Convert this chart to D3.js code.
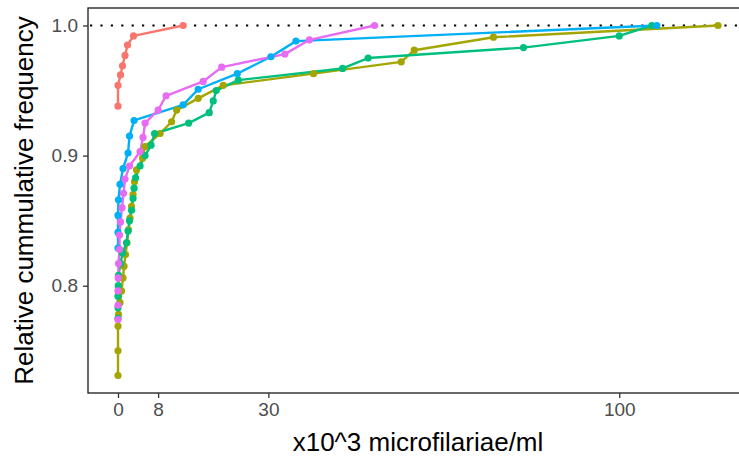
<!doctype html>
<html>
  <head>
    <meta charset="utf-8">
    <title>Relative cumulative frequency of microfilariae</title>
    <script src="https://cdnjs.cloudflare.com/ajax/libs/d3/7.8.5/d3.min.js"></script>
    <style>
      body { margin: 0; background: #fff; }
      text { font-family: "Liberation Sans", Arial, sans-serif; }
    </style>
  </head>

  <body>
    <div id="chart"></div>

    <script>
      // Data: x in 10^3 mf/ml, y = relative cumulative frequency
      const groups = ['A', 'B', 'C', 'D', 'E'];
      const colors = ['#F8766D', '#A3A500', '#00BF7D', '#00B0F6', '#E76BF3'];

      const redX = [0, 0, 0.5, 0.9, 1.4, 1.9, 3.1, 13.0];
      const redY = [0.938, 0.954, 0.962, 0.969, 0.977, 0.985, 0.992, 1.000];

      const oliveX = [0, 0, 0, 0.1, 0.4, 0.7, 1.0, 1.2, 1.5, 1.8, 2.1, 2.4, 2.7, 3.0, 3.3, 3.7,
                      4.9, 5.4, 8.4, 10.7, 11.7, 16.0, 21.0, 39.0, 56.5, 59.1, 74.9, 119.7];
      const oliveY = [0.731, 0.750, 0.769, 0.778, 0.787, 0.796, 0.806, 0.815, 0.824, 0.833, 0.843,
                      0.852, 0.861, 0.870, 0.880, 0.889, 0.898, 0.907, 0.917, 0.926, 0.935, 0.944,
                      0.954, 0.963, 0.972, 0.981, 0.991, 1.000];

      const greenX = [0, 0, 0, 0.05, 0.1, 0.5, 0.9, 1.7, 2.0, 2.3, 2.7, 3.0, 3.2, 3.5, 4.4, 5.4,
                      6.6, 7.3, 14.1, 18.2, 19.0, 19.6, 24.0, 44.8, 49.9, 80.9, 100.0, 106.5];
      const greenY = [0.775, 0.783, 0.792, 0.800, 0.808, 0.817, 0.825, 0.833, 0.842, 0.850, 0.858,
                      0.867, 0.875, 0.883, 0.892, 0.900, 0.908, 0.917, 0.925, 0.933, 0.942, 0.950,
                      0.958, 0.967, 0.975, 0.983, 0.992, 1.000];

      const blueX = [0, 0, 0, 0.1, 0.4, 1.0, 2.0, 2.3, 3.2, 13.0, 16.0, 23.8, 30.5, 35.5, 107.5];
      const blueY = [0.829, 0.841, 0.854, 0.866, 0.878, 0.890, 0.902, 0.915, 0.927, 0.939, 0.951,
                     0.963, 0.976, 0.988, 1.000];

      const pinkX = [0, 0, 0, 0.05, 0.1, 0.3, 0.3, 0.5, 0.8, 1.1, 1.4, 2.3, 4.4, 5.0, 5.4, 8.0,
                     9.6, 17.0, 20.7, 33.3, 38.2, 51.2];
      const pinkY = [0.774, 0.785, 0.796, 0.806, 0.817, 0.828, 0.839, 0.849, 0.860, 0.871, 0.882,
                     0.892, 0.903, 0.914, 0.925, 0.935, 0.946, 0.957, 0.968, 0.978, 0.989, 1.000];

      const xTicks = [0, 8, 30, 100];
      const yTicks = [0.8, 0.9, 1.0];
      const refLine = 1.0;

      const xs = [redX, oliveX, greenX, blueX, pinkX];
      const ys = [redY, oliveY, greenY, blueY, pinkY];
      const series = groups.map((g, i) => ({
        group: g,
        color: colors[i],
        points: xs[i].map((x, j) => ({ x: x, y: ys[i][j] }))
      }));

      // Panel box (right side runs past the window, as in the original)
      const width = 739, height = 459;
      const panel = { left: 88, top: 8, right: 748, bottom: 393 };

      const allX = xs.flat(), allY = ys.flat();
      const xMin = d3.min(allX), xMax = d3.max(allX);
      const yMin = d3.min(allY), yMax = d3.max(allY);
      const xPad = (xMax - xMin) * 0.05, yPad = (yMax - yMin) * 0.05;

      const x = d3.scaleLinear()
        .domain([xMin - xPad, xMax + xPad])
        .range([panel.left, panel.right]);

      const y = d3.scaleLinear()
        .domain([yMin - yPad, yMax + yPad])
        .range([panel.bottom, panel.top]);

      const svg = d3.select('#chart')
        .append('svg')
        .attr('width', width)
        .attr('height', height);

      // Dotted reference line at 1.0
      svg.append('line')
        .attr('x1', panel.left)
        .attr('x2', panel.right)
        .attr('y1', y(refLine))
        .attr('y2', y(refLine))
        .attr('stroke', '#000')
        .attr('stroke-width', 2.2)
        .attr('stroke-dasharray', '2.2 8.2')
        .attr('stroke-dashoffset', -2);

      // Lines
      const line = d3.line()
        .x(d => x(d.x))
        .y(d => y(d.y));

      svg.selectAll('path.series')
        .data(series)
        .join('path')
        .attr('class', 'series')
        .attr('d', d => line(d.points))
        .attr('fill', 'none')
        .attr('stroke', d => d.color)
        .attr('stroke-width', 2.4)
        .attr('stroke-linejoin', 'round');

      // Points
      svg.selectAll('g.pts')
        .data(series)
        .join('g')
        .attr('class', 'pts')
        .attr('fill', d => d.color)
        .selectAll('circle')
        .data(d => d.points)
        .join('circle')
        .attr('cx', d => x(d.x))
        .attr('cy', d => y(d.y))
        .attr('r', 3.6);

      // Panel border
      svg.append('rect')
        .attr('x', panel.left)
        .attr('y', panel.top)
        .attr('width', panel.right - panel.left)
        .attr('height', panel.bottom - panel.top)
        .attr('fill', 'none')
        .attr('stroke', '#1a1a1a')
        .attr('stroke-width', 1.3);

      // Axes
      const xAxis = svg.append('g')
        .attr('transform', `translate(0,${panel.bottom})`)
        .call(d3.axisBottom(x).tickValues(xTicks).tickSize(5).tickPadding(5)
          .tickFormat(d3.format('d')));

      const yAxis = svg.append('g')
        .attr('transform', `translate(${panel.left},0)`)
        .call(d3.axisLeft(y).tickValues(yTicks).tickSize(5).tickPadding(5)
          .tickFormat(d3.format('.1f')));

      [xAxis, yAxis].forEach(a => {
        a.select('.domain').remove();
        a.selectAll('.tick line').attr('stroke', '#333').attr('stroke-width', 1.3);
        a.selectAll('.tick text')
          .attr('fill', '#4d4d4d')
          .attr('font-size', '19px')
          .style('font-family', '"Liberation Sans", Arial, sans-serif');
      });

      // Axis titles
      svg.append('text')
        .attr('x', (panel.left + panel.right) / 2)
        .attr('y', 451)
        .attr('text-anchor', 'middle')
        .attr('font-size', '26px')
        .attr('fill', '#000')
        .text('x10^3 microfilariae/ml');

      svg.append('text')
        .attr('transform', `translate(33,${(panel.top + panel.bottom) / 2}) rotate(-90)`)
        .attr('text-anchor', 'middle')
        .attr('font-size', '26px')
        .attr('fill', '#000')
        .text('Relative cummulative frequency');
    </script>
  </body>
</html>
